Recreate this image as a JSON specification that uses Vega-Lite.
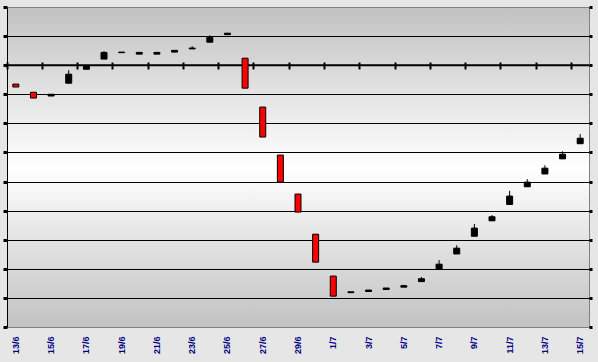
{
  "$schema": "https://vega.github.io/schema/vega-lite/v6.json",
  "width": 582,
  "height": 320,
  "autosize": "none",
  "padding": {"left": 7, "top": 7, "right": 9, "bottom": 35},
  "background": "#e6e6e6",
  "config": {
    "view": {
      "stroke": "#808080",
      "strokeWidth": 1,
      "fill": {"gradient": "linear", "x1": 0, "y1": 0, "x2": 0, "y2": 1, "stops": [{"offset": 0, "color": "#c2c2c2"}, {"offset": 0.5, "color": "#ffffff"}, {"offset": 1, "color": "#c2c2c2"}]}
    }
  },
  "data": {
    "values": [
      {"date": "13/6", "open": -0.65, "close": -0.75, "high": -0.65, "low": -0.75},
      {"date": "14/6", "open": -0.93, "close": -1.13, "high": -0.93, "low": -1.13},
      {"date": "15/6", "open": -1.06, "close": -1.0, "high": -1.0, "low": -1.06},
      {"date": "16/6", "open": -0.62, "close": -0.31, "high": -0.17, "low": -0.62},
      {"date": "17/6", "open": -0.14, "close": -0.01, "high": -0.01, "low": -0.14},
      {"date": "18/6", "open": 0.21, "close": 0.44, "high": 0.48, "low": 0.21},
      {"date": "19/6", "open": 0.43, "close": 0.45, "high": 0.45, "low": 0.43},
      {"date": "20/6", "open": 0.38, "close": 0.44, "high": 0.44, "low": 0.38},
      {"date": "21/6", "open": 0.38, "close": 0.44, "high": 0.44, "low": 0.38},
      {"date": "22/6", "open": 0.45, "close": 0.51, "high": 0.51, "low": 0.45},
      {"date": "23/6", "open": 0.56, "close": 0.59, "high": 0.65, "low": 0.56},
      {"date": "24/6", "open": 0.79, "close": 0.96, "high": 1.03, "low": 0.79},
      {"date": "25/6", "open": 1.05, "close": 1.1, "high": 1.1, "low": 1.05},
      {"date": "26/6", "open": 0.24, "close": -0.79, "high": 0.24, "low": -0.79},
      {"date": "27/6", "open": -1.44, "close": -2.47, "high": -1.44, "low": -2.47},
      {"date": "28/6", "open": -3.09, "close": -4.02, "high": -3.09, "low": -4.02},
      {"date": "29/6", "open": -4.43, "close": -5.05, "high": -4.43, "low": -5.05},
      {"date": "30/6", "open": -5.81, "close": -6.77, "high": -5.81, "low": -6.77},
      {"date": "1/7", "open": -7.25, "close": -7.94, "high": -7.25, "low": -7.94},
      {"date": "2/7", "open": -7.82, "close": -7.79, "high": -7.79, "low": -7.82},
      {"date": "3/7", "open": -7.78, "close": -7.73, "high": -7.73, "low": -7.78},
      {"date": "4/7", "open": -7.71, "close": -7.66, "high": -7.66, "low": -7.71},
      {"date": "5/7", "open": -7.63, "close": -7.58, "high": -7.55, "low": -7.63},
      {"date": "6/7", "open": -7.44, "close": -7.34, "high": -7.28, "low": -7.44},
      {"date": "7/7", "open": -7.01, "close": -6.84, "high": -6.7, "low": -7.01},
      {"date": "8/7", "open": -6.49, "close": -6.29, "high": -6.19, "low": -6.49},
      {"date": "9/7", "open": -5.88, "close": -5.6, "high": -5.46, "low": -5.88},
      {"date": "10/7", "open": -5.35, "close": -5.21, "high": -5.15, "low": -5.35},
      {"date": "11/7", "open": -4.79, "close": -4.5, "high": -4.32, "low": -4.79},
      {"date": "12/7", "open": -4.18, "close": -4.02, "high": -3.92, "low": -4.18},
      {"date": "13/7", "open": -3.74, "close": -3.54, "high": -3.44, "low": -3.74},
      {"date": "14/7", "open": -3.22, "close": -3.06, "high": -2.96, "low": -3.22},
      {"date": "15/7", "open": -2.7, "close": -2.51, "high": -2.37, "low": -2.7}
    ]
  },
  "resolve": {"axis": {"x": "independent", "y": "independent"}},
  "layer": [
    {
      "data": {"values": [{"v": 0}]},
      "mark": {"type": "rule", "color": "#000000", "strokeWidth": 2},
      "encoding": {
        "y": {"field": "v", "type": "quantitative", "axis": null}
      }
    },
    {
      "mark": {"type": "rule", "color": "#000000", "strokeWidth": 1},
      "encoding": {
        "x": {
          "field": "date", "type": "ordinal", "sort": null,
          "scale": {"type": "band", "paddingInner": 0, "paddingOuter": 0},
          "axis": {
            "orient": "bottom", "title": null, "domain": false, "ticks": false, "grid": false,
            "labelAngle": -90, "labelColor": "#000080", "labelFontWeight": "bold",
            "labelFont": "Liberation Sans", "labelFontSize": 9, "labelPadding": 9,
            "values": ["13/6", "15/6", "17/6", "19/6", "21/6", "23/6", "25/6", "27/6", "29/6", "1/7", "3/7", "5/7", "7/7", "9/7", "11/7", "13/7", "15/7"]
          }
        },
        "y": {
          "field": "low", "type": "quantitative",
          "scale": {"domain": [-9, 2], "nice": false, "zero": false},
          "axis": {
            "orient": "left", "title": null, "labels": false,
            "values": [-9, -8, -7, -6, -5, -4, -3, -2, -1, 0, 1, 2],
            "grid": true, "gridWidth": 1,
            "gridColor": {"condition": {"test": "datum.value == 2 || datum.value == -9", "value": "#808080"}, "value": "#000000"},
            "domain": true, "domainColor": "#000000", "domainWidth": 1,
            "ticks": true, "tickColor": "#000000", "tickSize": 4, "tickWidth": 3
          }
        },
        "y2": {"field": "high"}
      }
    },
    {
      "mark": {"type": "bar", "stroke": "#000000", "strokeWidth": 1, "width": {"band": 0.34}},
      "encoding": {
        "x": {
          "field": "date", "type": "ordinal", "sort": null,
          "axis": {
            "orient": "top", "title": null, "offset": -62, "domain": false, "labels": false, "grid": false,
            "ticks": true, "tickColor": "#000000", "tickSize": 7, "tickWidth": 2, "bandPosition": 0,
            "values": ["13/6", "15/6", "17/6", "19/6", "21/6", "23/6", "25/6", "27/6", "29/6", "1/7", "3/7", "5/7", "7/7", "9/7", "11/7", "13/7", "15/7"]
          }
        },
        "y": {
          "field": "open", "type": "quantitative",
          "axis": {
            "orient": "right", "title": null, "labels": false, "grid": false, "domain": false,
            "values": [-9, -8, -7, -6, -5, -4, -3, -2, -1, 0, 1, 2],
            "ticks": true, "tickColor": "#000000", "tickSize": 3, "tickWidth": 3
          }
        },
        "y2": {"field": "close"},
        "color": {"condition": {"test": "datum.open > datum.close", "value": "#ff0000"}, "value": "#000000"}
      }
    }
  ]
}
